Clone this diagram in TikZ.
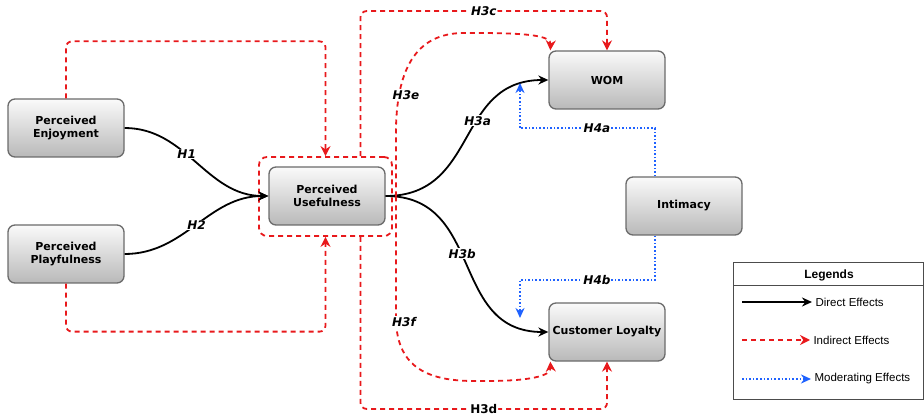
\documentclass[tikz,border=0pt]{standalone}
\usepackage{fontspec}
\setmainfont{Liberation Sans}
\newfontfamily\boxfont{DejaVu Sans}
\usetikzlibrary{arrows.meta}
\definecolor{indred}{HTML}{E8191C}
\definecolor{modblue}{HTML}{1F62FF}
\definecolor{boxline}{HTML}{6B6B6B}

\begin{document}
\begin{tikzpicture}[x=1pt, y=1pt,
  construct/.style={draw=boxline, line width=1.3pt, rounded corners=7pt,
    minimum width=116pt, minimum height=58pt, top color=gray!4, bottom color=gray!55,
    align=center, font=\boxfont\bfseries\fontsize{11}{13}\selectfont},
  direct/.style={draw=black, line width=1.8pt, -{Stealth[length=10pt,width=9pt]}},
  indirect/.style={draw=indred, line width=1.8pt, dash pattern=on 5pt off 4pt,
    rounded corners=6pt, -{Stealth[length=10pt,width=10pt]}},
  moderating/.style={draw=modblue, line width=1.8pt, dash pattern=on 1.6pt off 2pt,
    -{Stealth[length=10pt,width=9pt]}},
  hyp/.style={fill=white, inner sep=1pt, font=\boxfont\bfseries\itshape\fontsize{12}{14}\selectfont}]
\useasboundingbox (0,0) rectangle (924,418);

% constructs
\node[construct] (pe) at (66,290) {Perceived\\Enjoyment};
\node[construct] (pp) at (66,164) {Perceived\\Playfulness};
\node[construct] (pu) at (327,222) {Perceived\\Usefulness};
\node[draw=indred, line width=1.8pt, dash pattern=on 5pt off 4pt, rounded corners=8pt,
  minimum width=133pt, minimum height=79pt] (pubox) at (325.5,221.5) {};
\node[construct] (wom) at (607,338) {WOM};
\node[construct] (int) at (684,212) {Intimacy};
\node[construct] (cl) at (607,86) {Customer Loyalty};

% direct effects
\draw[direct] (pe.east) to[out=0, in=180] node[hyp, pos=0.42] {H1} (pu.west);
\draw[direct] (pp.east) to[out=0, in=180] node[hyp, pos=0.5] {H2} (pu.west);
\draw[direct] (pu.east) to[out=0, in=180, looseness=1.2] node[hyp, pos=0.6] {H3a} (wom.west);
\draw[direct] (pu.east) to[out=0, in=180, looseness=1.2] node[hyp, pos=0.45] {H3b} (cl.west);

% indirect effects
\draw[indirect] (pe.north) -- ++(0,57) -| (pubox.north);
\draw[indirect] (pp.south) -- ++(0,-48) -| (pubox.south);
\draw[indirect] ([xshift=35pt]pubox.north) -- ++(0,145) -| node[hyp, pos=0.25] {H3c} (wom.north);
\draw[indirect] ([xshift=35pt]pubox.south) -- ++(0,-172) -| node[hyp, pos=0.25, font=\boxfont\bfseries\fontsize{12}{14}\selectfont] {H3d} (cl.south);
\coordinate (split) at ([xshift=3pt]pubox.east);
\draw[indirect] (split) -- ++(0,56) .. controls +(0,70) and (415,385) .. (470,385)
  .. controls (530,385) and (551,382) .. ([xshift=2pt]wom.north west);
\draw[indirect] (split) -- ++(0,-114) .. controls +(0,-55) and (425,37) .. (480,37)
  .. controls (530,37) and (551,42) .. ([xshift=2pt]cl.south west);
\node[hyp] (h3e) at (406,323) {H3e};
\node[hyp] (h3f) at (404,96) {H3f};

% moderating effects
\coordinate (h4aend) at (520,335);
\coordinate (h4bend) at (520,100);
\draw[moderating] ([xshift=-29pt]int.north) -- ++(0,48) -- node[hyp, pos=0.43] {H4a} ++(-135,0) -- (h4aend);
\draw[moderating] ([xshift=-29pt]int.south) -- ++(0,-44) -- node[hyp, pos=0.43] {H4b} ++(-135,0) -- (h4bend);

% legend
\node[draw=black!70, line width=1pt, minimum width=190pt, minimum height=137pt, anchor=south west] (legend) at (733,18) {};
\draw[black!70, line width=1pt] (733,132) -- (923,132);
\node[font=\bfseries\fontsize{12}{14}\selectfont] (ltitle) at (829,143) {Legends};
\node[anchor=west, font=\fontsize{11.5}{13}\selectfont] (ldir) at (812,116) {Direct Effects};
\node[anchor=west, font=\fontsize{11.5}{13}\selectfont] (lind) at (810,78) {Indirect Effects};
\node[anchor=west, font=\fontsize{11.5}{13}\selectfont] (lmod) at (811,39) {Moderating Effects};
\coordinate (ldir0) at (742,116);
\coordinate (lind0) at (742,78);
\coordinate (lmod0) at (742,39);
\draw[direct] (ldir0) -- (ldir.west);
\draw[indirect] (lind0) -- (lind.west);
\draw[moderating] (lmod0) -- (lmod.west);
\end{tikzpicture}
\end{document}
